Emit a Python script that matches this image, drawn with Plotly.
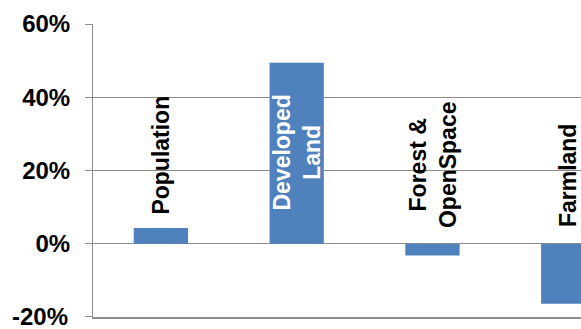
import plotly.graph_objects as go

categories = ["Population", "Developed Land", "Forest & OpenSpace", "Farmland"]
values = [4.3, 49.4, -3.2, -16.4]
label_texts = ["Population", "Developed<br>Land", "Forest &<br>OpenSpace", "Farmland"]
label_y = [24.3, 24.8, 21.6, 18.8]
label_colors = ["black", "white", "black", "black"]
tick_vals = [-20, 0, 20, 40, 60]
tick_text = ["-20%", "0%", "20%", "40%", "60%"]

tick_font = dict(family="Liberation Sans", size=24, color="black", weight="bold")

fig = go.Figure()
fig.add_trace(go.Bar(
    x=list(range(len(categories))),
    y=values,
    marker=dict(color="#4F81BD", line=dict(width=0)),
    hoverinfo="skip",
))

for i, (t, yv, c) in enumerate(zip(label_texts, label_y, label_colors)):
    fig.add_annotation(
        x=i, y=yv, xref="x", yref="y",
        text=t, showarrow=False, textangle=-90,
        xanchor="center", yanchor="middle", align="center",
        font=dict(family="Liberation Sans", size=23, color=c, weight="bold"),
    )

# bottom tick label (plotly drops the label at the figure edge), drawn as text
fig.add_annotation(
    x=0, y=tick_vals[0], xref="paper", yref="y",
    text=tick_text[0], showarrow=False,
    xanchor="right", yanchor="middle", xshift=-23,
    font=tick_font,
)

fig.update_layout(
    width=581, height=329,
    margin=dict(l=93, r=0, t=24, b=12, pad=0),
    paper_bgcolor="white", plot_bgcolor="white",
    showlegend=False,
    bargap=0.6,
)
fig.update_xaxes(
    range=[-0.5, 3.094], showticklabels=False, ticks="",
    showgrid=False, zeroline=False,
    showline=True, linecolor="#8c8c8c", linewidth=2,
)
fig.update_yaxes(
    range=[-20.02, 60], tickvals=tick_vals, ticktext=[""] + tick_text[1:],
    automargin=False,
    showgrid=True, gridcolor="#8c8c8c", gridwidth=1,
    zeroline=False, showline=True, linecolor="#8c8c8c", linewidth=1,
    ticks="outside", ticklen=7, tickcolor="#8c8c8c", tickwidth=1,
    ticklabelstandoff=10,
    tickfont=tick_font,
)

fig.write_html("out.html")
